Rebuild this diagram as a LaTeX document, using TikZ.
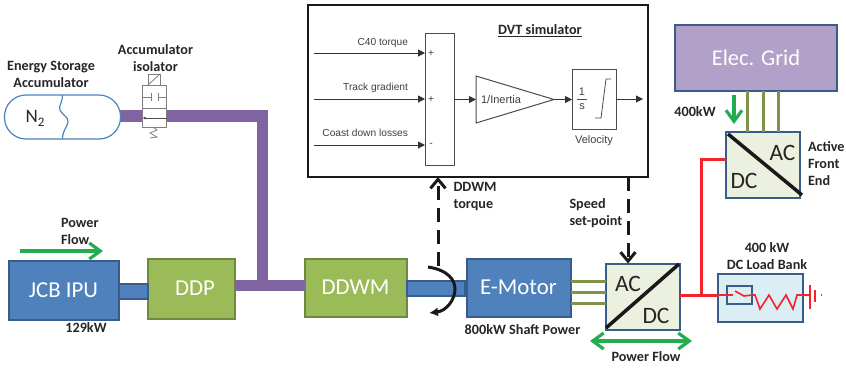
\documentclass[tikz,border=0pt]{standalone}
\usepackage{fontspec}
\setmainfont{Carlito}
\newfontfamily\simfont{Liberation Sans}
\usetikzlibrary{arrows.meta,calc}
\definecolor{bfill}{HTML}{4F81BD}
\definecolor{bedge}{HTML}{385D8A}
\definecolor{gfill}{HTML}{9BBB59}
\definecolor{gedge}{HTML}{71893F}
\definecolor{pipep}{HTML}{8064A2}
\definecolor{gridf}{HTML}{B1A0C7}
\definecolor{convf}{HTML}{EBF1DE}
\definecolor{loadf}{HTML}{DAEEF3}
\definecolor{olive}{HTML}{7F9448}
\definecolor{flow}{HTML}{22AE50}
\definecolor{redl}{HTML}{F5232B}
\definecolor{lab}{HTML}{262626}
\tikzset{
 every node/.style={inner sep=0pt,outer sep=0pt},
 lbl/.style={font=\fontsize{14.2}{17}\selectfont\bfseries,text=lab,align=center},
 bluebox/.style={draw=bedge,fill=bfill,line width=2pt,text=white,font=\fontsize{22.8}{26}\selectfont},
 greenbox/.style={draw=gedge,fill=gfill,line width=2pt,text=white,font=\fontsize{22.8}{26}\selectfont},
 convbox/.style={draw=bedge,fill=convf,line width=2pt},
 convtxt/.style={font=\fontsize{23.5}{26}\selectfont,text=lab},
 bluepipe/.style={draw=bedge,fill=bfill,line width=2pt},
 purplepipe/.style={draw=pipep,line width=11.5pt},
 phase/.style={draw=olive,line width=3pt},
 redwire/.style={draw=redl,line width=3pt},
 barbhead/.tip={Straight Barb[length=11pt,width=16pt,line width=3.2pt]},
 flowarrow/.style={draw=flow,line width=3.2pt,-barbhead},
 flowboth/.style={draw=flow,line width=3.2pt,barbhead-barbhead},
 dashline/.style={draw=black!90,line width=3pt,dash pattern=on 14pt off 8pt},
 diag/.style={draw=black!90,line width=3.5pt},
 simtxt/.style={font=\simfont\fontsize{10.2}{12}\selectfont,text=black!75},
 simbig/.style={font=\simfont\fontsize{11}{12.5}\selectfont,text=black!75},
 simline/.style={draw=black!80,line width=1pt,-{Triangle[length=7pt,width=7pt]}},
 simbox/.style={draw=black!70,fill=white,line width=1pt},
 valve/.style={draw=black!50,line width=0.8pt},
}
\begin{document}
\begin{tikzpicture}[x=1pt,y=-1pt]
\useasboundingbox (0,0) rectangle (846,368);
% pipes (behind)
\coordinate (pA) at (118,116);
\coordinate (pB) at (262.5,116);
\coordinate (pC) at (262.5,285.5);
% boxes
\node[bluebox,minimum width=110,minimum height=59] (jcb) at (63.5,290.5) {JCB IPU};
\node[greenbox,minimum width=87,minimum height=60] (ddp) at (191,288.5) {\hspace*{8pt}DDP};
\node[greenbox,minimum width=102,minimum height=58] (ddwm) at (355.5,287.5) {DDWM};
\node[bluebox,minimum width=104,minimum height=58] (emotor) at (518.5,287.5) {E-Motor};
\draw[purplepipe] (ddp.east |- pC) -- (ddwm.west |- pC);
\node[bluepipe,minimum width=29,minimum height=15] (jcbpipe) at (133.5,291) {};
\node[bluepipe,minimum width=58,minimum height=15] (shaft) at (436,288.5) {};
% accumulator
\draw[purplepipe] (pA) -- (pB) -- (pC);
\node[draw=bfill,fill=white,line width=1.2pt,rounded corners=21.5pt,minimum width=116,minimum height=44] (acc) at (62.5,117) {};
\node[font=\fontsize{19}{21}\selectfont,text=lab] (n2) at (35,118) {N\raisebox{-4pt}{\fontsize{13}{13}\selectfont 2}};
\draw[draw=bfill,line width=1.2pt] (62.5,95) .. controls (63,102) and (58,106) .. (60,110) .. controls (62,115) and (69,117) .. (68,122) .. controls (67,128) and (62.5,130) .. (62.5,139);
\node[lbl] (esa) at (51,74) {Energy Storage\\Accumulator};
\node[lbl] (iso) at (155.5,58.5) {Accumulator\\isolator};
% valve
\node[valve,fill=white,minimum width=24,minimum height=42] (vbody) at (154.5,106) {};
\node[valve,fill=white,minimum width=12,minimum height=11] (vsol) at (154,79.5) {};
\draw[valve] (148,85) -- (160,74);
\draw[valve] (vbody.west |- 0,108) -- (vbody.east |- 0,108);
\draw[valve] (vbody.west |- 0,97) -- (151,97) (151,93) -- (151,101) (158,93) -- (158,101) (158,97) -- (vbody.east |- 0,97);
\draw[valve,draw=black!70,-{Latex[length=3pt,width=3pt]}] (vbody.east |- 0,118) -- (vbody.west |- 0,118);
\draw[valve] (153,127) -- (157,130) -- (150,133) -- (157,137) -- (150,138);
% DVT box
\node[draw=black!90,line width=2.2pt,fill=white,minimum width=340,minimum height=172] (dvt) at (478,91) {};
\node[font=\fontsize{14.2}{17}\selectfont\bfseries,text=lab] (dvttitle) at (540,31) {\underline{DVT simulator}};
\node[simbox,minimum width=29,minimum height=132] (sum) at (439.5,99) {};
\node[simtxt] (p1) at (431,54) {+};
\node[simtxt] (p2) at (431,100) {+};
\node[simtxt] (p3) at (431,145) {-};
\coordinate (in1) at (314,53); \coordinate (in2) at (314,99); \coordinate (in3) at (314,145);
\draw[simline] (in1) -- (sum.west |- in1);
\draw[simline] (in2) -- (sum.west |- in2);
\draw[simline] (in3) -- (sum.west |- in3);
\node[simtxt,anchor=east] (t1) at (408,43) {C40 torque};
\node[simtxt,anchor=east] (t2) at (408,87.5) {Track gradient};
\node[simtxt,anchor=east] (t3) at (408,133) {Coast down losses};
\draw[simbox] (476,76) -- (476,123) -- (554,99.5) -- cycle;
\coordinate (gainin) at (476,99.5); \coordinate (gainout) at (554,99.5);
\node[simbig] (gain) at (501,100) {1/Inertia};
\node[simbox,minimum width=44,minimum height=60] (intg) at (594,99) {};
\node[simbig,align=center] (frac) at (582,99) {1\\[1pt]s};
\draw[draw=black!70,line width=0.8pt] (576.5,99) -- (587,99);
\draw[draw=black!70,line width=0.8pt] (595,118) -- (601,118) -- (606,79) -- (611,79);
\node[simbig] (vel) at (594,141) {Velocity};
\coordinate (out) at (643,99);
\draw[simline] (sum.east |- gainin) -- (gainin);
\draw[simline] (gainout) -- (intg.west |- gainout);
\draw[simline] (intg.east |- out) -- (out);
% dashed signals
\coordinate (dT) at (438,266);
\draw[dashline,-{Straight Barb[length=9pt,width=15pt,line width=3pt]}] (dT) -- (dT |- dvt.south);
\node[lbl,align=left,anchor=west] (ddwmt) at (453.5,196.5) {DDWM\\torque};
% converter
\node[convbox,minimum width=74,minimum height=66] (conv) at (642.5,296.5) {};
\coordinate (sT) at (628,177);
\draw[dashline,-{Straight Barb[length=9pt,width=15pt,line width=3pt]}] (sT) -- (sT |- conv.north);
\node[lbl,align=left,anchor=west] (speed) at (569.5,213.5) {Speed\\set-point};
\draw[diag] (606,328) -- (679,264);
\node[convtxt] (ac1) at (628,284) {AC};
\node[convtxt] (dc1) at (656,316) {DC};
\draw[phase] (emotor.east |- 0,281.5) -- (conv.west |- 0,281.5);
\draw[phase] (emotor.east |- 0,292) -- (conv.west |- 0,292);
\draw[phase] (emotor.east |- 0,303) -- (conv.west |- 0,303);
% rotation
\draw[draw=black!90,line width=3pt,-{Latex[length=9pt,width=9pt]}] (428,267) .. controls (448,270) and (455,280) .. (455,289) .. controls (455,300) and (446,311) .. (429,313);
\node[lbl] (shaftp) at (522.5,330) {800kW Shaft Power};
\node[lbl] (p129) at (86,328) {129kW};
\node[lbl,align=left,anchor=west] (pf1) at (61,231.5) {Power\\Flow};
\coordinate (fa) at (20,251); \coordinate (fb) at (103,251);
\draw[flowarrow] (fa) -- (fb);
\coordinate (fc) at (590,341); \coordinate (fd) at (692,341);
\draw[flowboth] (fc) -- (fd);
\node[lbl] (pf2) at (646,357) {Power Flow};
% grid
\node[draw=bedge,fill=gridf,line width=2.2pt,minimum width=162,minimum height=66,text=white,font=\fontsize{22.5}{25}\selectfont] (grid) at (756,58) {Elec. Grid};
\node[convbox,minimum width=74,minimum height=66] (afe) at (763,165) {};
\draw[phase] (747.5,91) -- (747.5,0 |- afe.north);
\draw[phase] (763,91) -- (763,0 |- afe.north);
\draw[phase] (778.5,91) -- (778.5,0 |- afe.north);
\draw[diag] (728,134) -- (802,195);
\node[convtxt] (ac2) at (782.5,153) {AC};
\node[convtxt] (dc2) at (744,181) {DC};
\node[lbl] (p400) at (695,112) {400kW};
\coordinate (ga) at (734,95); \coordinate (gb) at (734,124);
\draw[flowarrow] (ga) -- (gb);
\node[lbl,align=left,anchor=west] (afel) at (808,164) {Active\\Front\\End};
% load bank
\node[draw=bedge,fill=loadf,line width=1.8pt,minimum width=85,minimum height=48] (load) at (760.5,298) {};
\node[draw=bedge,line width=1.6pt,minimum width=25,minimum height=18] (sw) at (739.5,295) {};
\coordinate (j) at (701.5,295);
\draw[redwire] (conv.east |- j) -- (load.west |- j);
\draw[redwire] (j) -- (701.5,159) -- (afe.west |- 0,159);
\draw[redl,line width=1.6pt] (load.west |- j) -- (733,295);
\draw[redl,line width=1.6pt] (735,291) -- (744,296) -- (752,295) -- (755,295) -- (760,309) -- (769,295) -- (777,309) -- (786,295) -- (793,309) -- (797,295) -- (810,295);
\draw[redl,line width=1.8pt] (810,285) -- (810,309);
\draw[redl,line width=1.8pt] (815,290) -- (815,302);
\draw[redl,line width=1.8pt] (820.5,295) -- (821.5,295) ;
\node[lbl] (lbl400) at (767,256) {400 kW\\DC Load Bank};
\end{tikzpicture}
\end{document}
